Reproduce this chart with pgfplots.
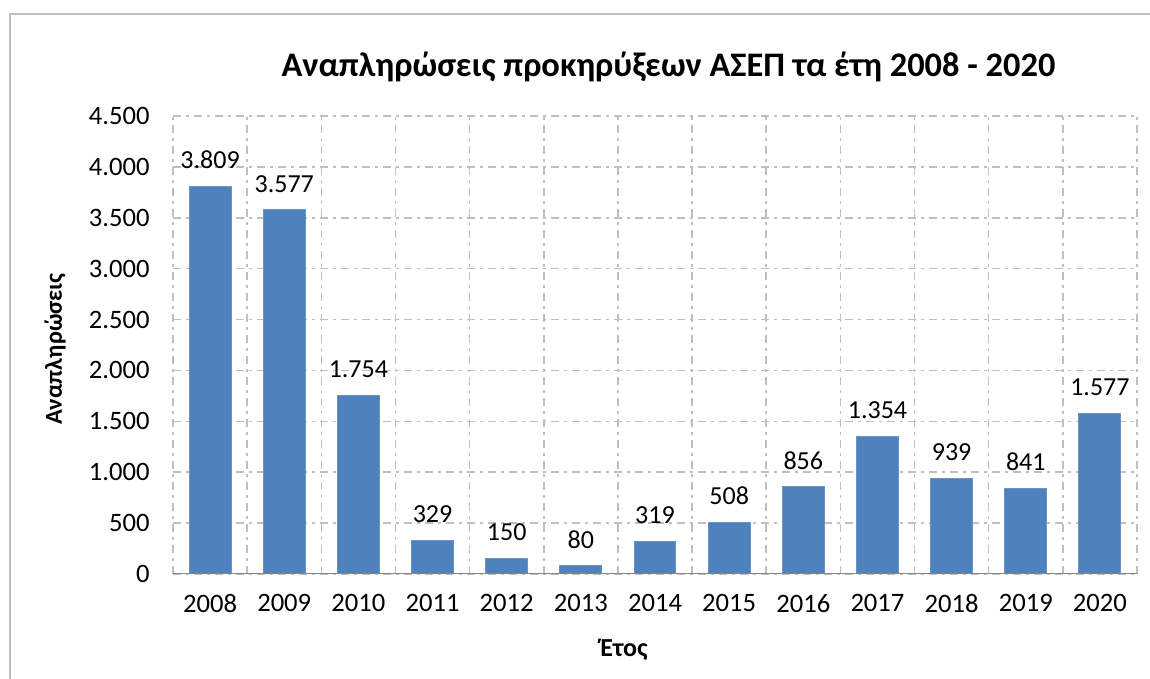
\documentclass[border=0pt]{standalone}
\usepackage{fontspec}
\setmainfont{Carlito}
\usepackage{pgfplots}
\pgfplotsset{compat=1.18}
\definecolor{barblue}{HTML}{4F81BD}
\definecolor{gridgray}{HTML}{BFBFBF}
\definecolor{axisgray}{HTML}{868686}
\begin{document}
\begin{tikzpicture}[x=1pt,y=1pt]
\useasboundingbox (0,0) rectangle (575,339.5);
\draw[gridgray, line width=1pt] (5,0) -- (5,332.5) -- (575,332.5);
\begin{axis}[
  at={(86.5pt,52.5pt)}, anchor=south west,
  scale only axis, width=482pt, height=229pt,
  xmin=-0.5, xmax=12.5, ymin=0, ymax=4500,
  ybar, bar width=0.566,
  xtick={0,1,2,3,4,5,6,7,8,9,10,11,12},
  xticklabels={2008,2009,2010,2011,2012,2013,2014,2015,2016,2017,2018,2019,2020},
  minor xtick={-0.5,0.5,1.5,2.5,3.5,4.5,5.5,6.5,7.5,8.5,9.5,10.5,11.5,12.5},
  ytick={0,500,1000,1500,2000,2500,3000,3500,4000,4500},
  scaled y ticks=false,
  major tick length=0pt, minor tick length=0pt,
  xminorgrids=true, ymajorgrids=true, xmajorgrids=false,
  grid style={gridgray, line width=0.75pt, dash pattern=on 4pt off 2.5pt on 1.5pt off 2.5pt},
  minor grid style={gridgray, line width=0.75pt, dash pattern=on 4pt off 2.5pt on 1.5pt off 2.5pt},
  axis line style={draw=none},
  tick label style={font=\fontsize{13.3}{15}\selectfont},
  xticklabel style={yshift=-6.7pt},
  yticklabel style={xshift=-8.2pt},
  /pgf/number format/assume math mode=true,
  /pgf/number format/1000 sep={.},
  nodes near coords,
  every node near coord/.append style={font=\fontsize{13}{15}\selectfont, yshift=5.2pt, text=black},
]
\addplot[fill=barblue, draw=barblue!85!white, line width=0.5pt] coordinates {
(0,3809) (1,3577) (2,1754) (3,329) (4,150) (5,80) (6,319) (7,508) (8,856) (9,1354) (10,939) (11,841) (12,1577)
};
\draw[axisgray, line width=1pt] (rel axis cs:0,0) -- (rel axis cs:1,0);
\end{axis}
\node[anchor=base, font=\bfseries\fontsize{17.2}{20}\selectfont] at (334.25,301.2) {Αναπληρώσεις προκηρύξεων ΑΣΕΠ τα έτη 2008 - 2020};
\node[anchor=base, rotate=90, font=\bfseries\fontsize{12.2}{14}\selectfont] at (30.9,165) {Αναπληρώσεις};
\node[anchor=base, font=\bfseries\fontsize{13}{15}\selectfont] at (312,11.2) {Έτος};
\end{tikzpicture}
\end{document}
